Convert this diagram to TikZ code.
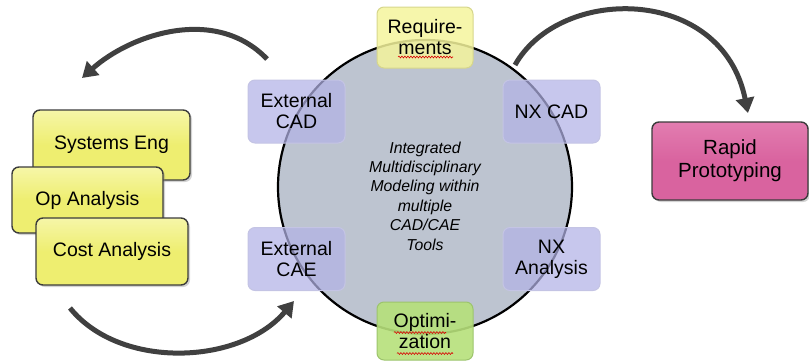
\documentclass[tikz,border=0pt]{standalone}
\usepackage{fontspec}
\setmainfont{Liberation Sans}
\usetikzlibrary{arrows.meta,shadows,decorations.pathmorphing}
\definecolor{arrowgray}{HTML}{404040}
\definecolor{boxyellow}{HTML}{EEEE70}
\definecolor{boxyellowtop}{HTML}{F6F6A8}
\definecolor{reqyellow}{HTML}{F4F49C}
\definecolor{reqborder}{HTML}{D6D68C}
\definecolor{boxpurple}{HTML}{B2B2E6}
\definecolor{purpborder}{HTML}{C4C4E4}
\definecolor{circfill}{HTML}{BDC4D0}
\definecolor{boxgreen}{HTML}{B6E07A}
\definecolor{greenborder}{HTML}{9CC46C}
\definecolor{boxmag}{HTML}{D9639F}
\definecolor{boxmagtop}{HTML}{E27DB0}
\definecolor{darkborder}{HTML}{3C3C3C}
\tikzset{
  basebox/.style={rectangle, rounded corners=7pt, inner sep=0pt, align=center,
    font=\fontsize{19.5}{21}\selectfont, text=black},
  leftbox/.style={basebox, top color=boxyellowtop, bottom color=boxyellow,
    middle color=boxyellow, draw=darkborder, line width=1.4pt,
    drop shadow={shadow xshift=2pt, shadow yshift=-2pt, opacity=0.35},
    minimum width=157pt, minimum height=70pt},
  ringbox/.style={basebox, fill=boxpurple, draw=purpborder, line width=1pt,
    fill opacity=0.72, text opacity=1, minimum width=97pt, minimum height=63pt},
  reqbox/.style={basebox, fill=reqyellow, draw=reqborder, line width=1pt,
    fill opacity=0.85, text opacity=1, minimum width=96pt, minimum height=61pt},
  optbox/.style={basebox, fill=boxgreen, draw=greenborder, line width=1pt,
    fill opacity=0.9, text opacity=1, minimum width=96pt, minimum height=58pt},
  rpbox/.style={basebox, top color=boxmagtop, bottom color=boxmag,
    middle color=boxmag, draw=darkborder, line width=1.4pt,
    drop shadow={shadow xshift=2pt, shadow yshift=-2pt, opacity=0.35},
    minimum width=156pt, minimum height=78pt, font=\fontsize{20.5}{23}\selectfont},
  bigarrow/.style={draw=arrowgray, line width=5pt,
    -{Triangle[length=15pt, width=18pt]}},
  squiggle/.style={draw=red!85!black, line width=0.6pt,
    decorate, decoration={snake, amplitude=0.9pt, segment length=3pt}}
}
\begin{document}
\begin{tikzpicture}[x=1pt, y=-1pt]
\useasboundingbox (0,0) rectangle (809,362);

% central circle
\node[circle, minimum size=294pt, inner sep=0pt, fill=circfill, draw=black,
      line width=2.2pt] (ring) at (425,187) {};
\node[align=center, font=\fontsize{15.8}{19.4}\selectfont\itshape] (core) at (425,196)
  {Integrated\\Multidisciplinary\\Modeling within\\multiple\\CAD/CAE\\Tools};

% ring boxes
\node[ringbox] (extcad) at (296.5,111.5) {External\\CAD};
\node[ringbox] (nxcad) at (551.5,111.5) {NX CAD};
\node[ringbox] (extcae) at (296.5,259) {External\\CAE};
\node[ringbox] (nxan) at (551.5,259) {NX\\Analysis};
\node[reqbox] (req) at (425,37.5) {Require-\\ments};
\node[optbox] (opt) at (425,331) {Optimi-\\zation};

% spell-check marks
\draw[squiggle] (398,57) -- (453,57);
\draw[squiggle] (394,332.5) -- (446,332.5);
\draw[squiggle] (397,353.5) -- (453,353.5);

% left stack
\node[leftbox] (syseng) at (111.5,145) {Systems Eng};
\node[leftbox, minimum width=151pt, minimum height=66pt] (opan) at (87.5,200) {Op Analysis};
\node[leftbox, minimum width=152pt, minimum height=67pt] (costan) at (112,251.5) {Cost Analysis};

% rapid prototyping
\node[rpbox] (rapid) at (730,161) {Rapid\\Prototyping};

% arrows
\coordinate (a1s) at (267,59);
\coordinate (a1e) at (82,78);
\coordinate (a2s) at (70,308);
\coordinate (a2e) at (294,301);
\coordinate (a3s) at (515,65);
\coordinate (a3e) at (748,113);
\draw[bigarrow] (a1s) .. controls (215,5) and (130,35) .. (a1e);
\draw[bigarrow] (a2s) .. controls (120,370) and (240,365) .. (a2e);
\draw[bigarrow] (a3s) .. controls (560,-15) and (722,-15) .. (a3e);
\end{tikzpicture}
\end{document}
